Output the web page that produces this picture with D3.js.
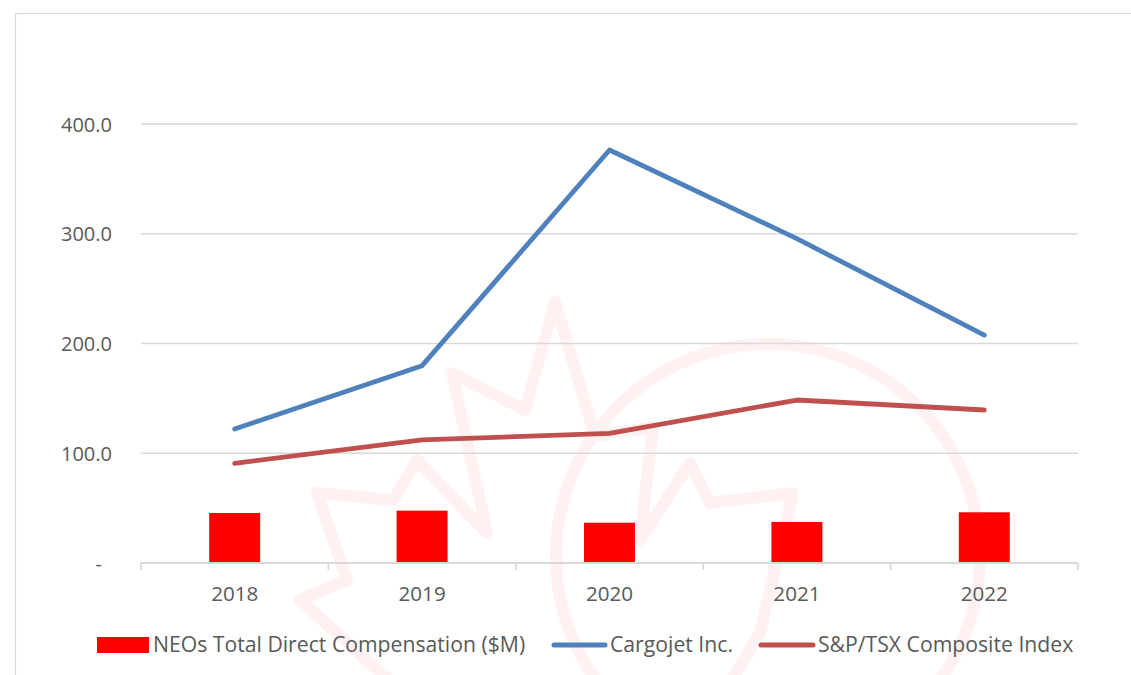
<!DOCTYPE html>
<html>
<head>
<meta charset="utf-8">
<script src="https://cdn.jsdelivr.net/npm/d3@7"></script>
<style>
  html, body { margin: 0; padding: 0; background: #fff; }
  svg { display: block; }
  text { font-family: "Open Sans", "Noto Sans", sans-serif; fill: #595959; }
</style>
</head>
<body>
<svg id="chart" width="1131" height="675"></svg>
<script>
// ---- Data ----
const years = ["2018", "2019", "2020", "2021", "2022"];
const neoComp = [45.6, 47.7, 36.7, 37.4, 46.2];          // bars ($M)
const cargojet = [122.1, 179.8, 376.3, 295.5, 207.7];    // blue line
const tsx = [90.8, 112.1, 118.2, 148.5, 139.4];          // red line
const yTicks = [0, 100, 200, 300, 400];
const seriesNames = ["NEOs Total Direct Compensation ($M)", "Cargojet Inc.", "S&P/TSX Composite Index"];

// ---- Layout ----
const W = 1131, H = 675;
const plot = { left: 141, right: 1078, top: 124, bottom: 563 };
const colors = { bar: "#ff0000", cargo: "#4f81bd", tsx: "#c0504d", grid: "#d9d9d9", wm: "#fff1f1" };

const svg = d3.select("#chart");

// outer chart border
svg.append("rect")
  .attr("x", 15.5).attr("y", 13.5)
  .attr("width", W + 10).attr("height", H + 10)
  .attr("fill", "#fff").attr("stroke", colors.grid).attr("stroke-width", 1.2);

// faint watermark (maple leaf + circle), decorative
const wm = svg.append("g").attr("fill", "none").attr("stroke", colors.wm)
  .attr("stroke-width", 12).attr("stroke-linejoin", "round");
wm.append("circle").attr("cx", 768).attr("cy", 556).attr("r", 212);
const leaf = [
  [400, 690], [300, 600], [347, 580], [317, 493], [393, 500], [417, 460], [487, 533],
  [452, 373], [525, 410], [555, 302], [595, 436], [653, 427], [640, 540], [690, 463],
  [710, 503], [793, 493], [760, 633], [720, 700]
];
wm.append("path").attr("d", d3.line()(leaf));

// ---- Scales ----
const x = d3.scaleBand().domain(years).range([plot.left, plot.right])
  .paddingInner(0.728).paddingOuter(0.364);
const xCat = d3.scaleBand().domain(years).range([plot.left, plot.right]).padding(0);
const cx = d => xCat(d) + xCat.bandwidth() / 2;
const y = d3.scaleLinear().domain([0, 400]).range([plot.bottom, plot.top]);

// gridlines
svg.append("g").selectAll("line").data(yTicks.filter(t => t > 0)).join("line")
  .attr("x1", plot.left).attr("x2", plot.right)
  .attr("y1", d => y(d)).attr("y2", d => y(d))
  .attr("stroke", colors.grid).attr("stroke-width", 1.5);

// y axis labels
const yAxis = d3.axisLeft(y).tickValues(yTicks).tickSize(0).tickPadding(0)
  .tickFormat(d => d === 0 ? "-" : d3.format(".1f")(d));
const gy = svg.append("g").attr("transform", `translate(112,0)`).call(yAxis);
gy.select(".domain").remove();
gy.selectAll("text").attr("font-size", 20).attr("fill", "#595959")
  .style("font-family", "'Open Sans', sans-serif")
  .attr("dy", "0.35em")
  .attr("x", d => d === 0 ? -10 : 0);

// bars
svg.append("g").selectAll("rect").data(years).join("rect")
  .attr("x", d => x(d)).attr("width", x.bandwidth())
  .attr("y", (d, i) => y(neoComp[i]))
  .attr("height", (d, i) => y(0) - y(neoComp[i]))
  .attr("fill", colors.bar);

// x axis
const xAxis = d3.axisBottom(xCat).tickSize(0).tickPadding(0);
const gx = svg.append("g").attr("transform", `translate(0,${plot.bottom})`).call(xAxis);
gx.select(".domain").attr("stroke", colors.grid).attr("stroke-width", 1.8).attr("d", `M${plot.left},0H${plot.right}`);
gx.selectAll("text").attr("font-size", 20.6).attr("fill", "#595959")
  .style("font-family", "'Open Sans', sans-serif")
  .attr("y", 31).attr("dy", "0.35em");
// category boundary ticks
const bounds = years.map(d => xCat(d)).concat([plot.right]);
svg.append("g").selectAll("line").data(bounds).join("line")
  .attr("x1", d => d).attr("x2", d => d)
  .attr("y1", plot.bottom).attr("y2", plot.bottom + 7)
  .attr("stroke", colors.grid).attr("stroke-width", 1.8);

// lines
const lineGen = d3.line().x((d, i) => cx(years[i])).y(d => y(d));
svg.append("path").datum(tsx).attr("d", lineGen)
  .attr("fill", "none").attr("stroke", colors.tsx).attr("stroke-width", 4.8)
  .attr("stroke-linecap", "round").attr("stroke-linejoin", "round");
svg.append("path").datum(cargojet).attr("d", lineGen)
  .attr("fill", "none").attr("stroke", colors.cargo).attr("stroke-width", 4.8)
  .attr("stroke-linecap", "round").attr("stroke-linejoin", "round");

// legend
const ly = 645, lfs = 21.2;
const leg = svg.append("g");
leg.append("rect").attr("x", 97).attr("y", ly - 8).attr("width", 52).attr("height", 16).attr("fill", colors.bar);
leg.append("text").attr("x", 153).attr("y", ly).attr("dy", "0.35em").attr("font-size", lfs).text(seriesNames[0]);
leg.append("line").attr("x1", 554).attr("x2", 605).attr("y1", ly).attr("y2", ly)
  .attr("stroke", colors.cargo).attr("stroke-width", 5).attr("stroke-linecap", "round");
leg.append("text").attr("x", 610).attr("y", ly).attr("dy", "0.35em").attr("font-size", lfs).text(seriesNames[1]);
leg.append("line").attr("x1", 761).attr("x2", 813).attr("y1", ly).attr("y2", ly)
  .attr("stroke", colors.tsx).attr("stroke-width", 5).attr("stroke-linecap", "round");
leg.append("text").attr("x", 818).attr("y", ly).attr("dy", "0.35em").attr("font-size", lfs).text(seriesNames[2]);
</script>
</body>
</html>
